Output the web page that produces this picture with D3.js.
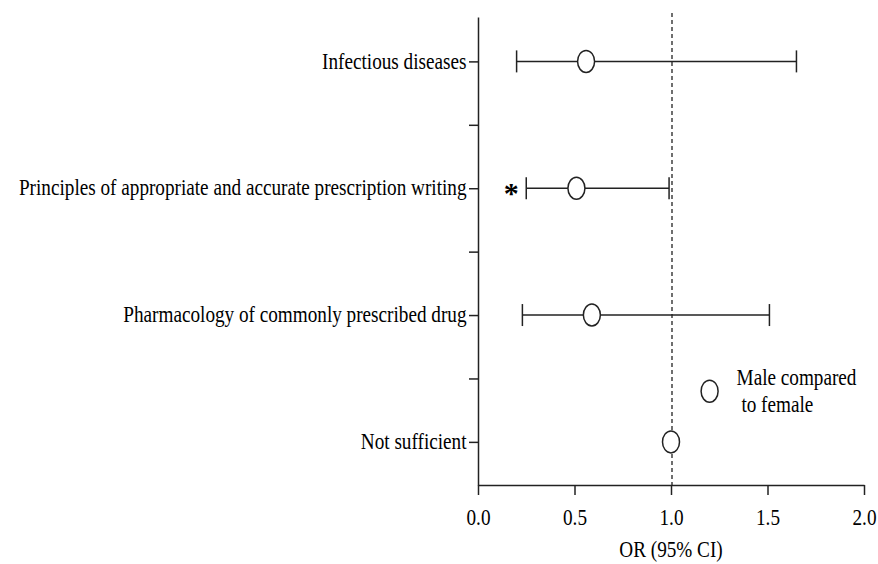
<!DOCTYPE html>
<html>
<head>
<meta charset="utf-8">
<script src="https://cdn.jsdelivr.net/npm/d3@7"></script>
<style>
  body { margin: 0; background: #fff; }
  svg { display: block; font-family: 'Liberation Serif', 'Times New Roman', serif; }
</style>
</head>
<body>
<div class="canvas"></div>
<script>
'use strict';

// forest plot: OR (95% CI), male compared to female
const categories = [
  'Infectious diseases',
  'Principles of appropriate and accurate prescription writing',
  'Pharmacology of commonly prescribed drug',
  'Not sufficient'
];
const oddsRatio = [0.56, 0.51, 0.59, 1.0];
const lowerCI = [0.20, 0.25, 0.23, null];
const upperCI = [1.65, 0.99, 1.51, null];
const significant = [false, true, false, false];
const xTicks = [0, 0.5, 1.0, 1.5, 2.0];
const legendLines = ['Male compared', ' to female'];

const width = 878;
const height = 564;
const margin = { top: 17, right: 14, bottom: 79, left: 478 };
const graphWidth = width - margin.left - margin.right;
const graphHeight = height - margin.top - margin.bottom;
const squeeze = 0.8; // text in the picture is narrow
const ink = '#222';
const serif = "'Liberation Serif', 'Times New Roman', serif";

const rows = categories.map((name, i) => ({
  name,
  pos: categories.length - i,
  or: oddsRatio[i],
  lo: lowerCI[i],
  hi: upperCI[i],
  sig: significant[i]
}));

const svg = d3
  .select('.canvas')
  .append('svg')
  .attr('width', width)
  .attr('height', height);

const graph = svg
  .append('g')
  .attr('transform', `translate(${margin.left},${margin.top})`);

const x = d3.scaleLinear().domain([0, 2]).range([0, graphWidth]);
const y = d3.scaleLinear().domain([0.66, 4.35]).range([graphHeight, 0]);

// reference line at OR = 1
graph
  .append('line')
  .attr('x1', x(1) + 1)
  .attr('x2', x(1) + 1)
  .attr('y1', -4)
  .attr('y2', graphHeight)
  .attr('stroke', ink)
  .attr('stroke-width', 1.3)
  .attr('stroke-dasharray', '4,3');

// axes
const xAxis = d3
  .axisBottom(x)
  .tickValues(xTicks)
  .tickFormat(d3.format('.1f'))
  .tickSize(10)
  .tickSizeOuter(0)
  .tickPadding(13);

const yTickVals = d3.range(1, 4.01, 0.5);
const yAxis = d3
  .axisLeft(y)
  .tickValues(yTickVals)
  .tickFormat(d => (Number.isInteger(d) ? categories[categories.length - d] : ''))
  .tickSize(9)
  .tickSizeOuter(0)
  .tickPadding(2);

const xAxisGroup = graph
  .append('g')
  .attr('transform', `translate(0,${graphHeight})`)
  .call(xAxis);
const yAxisGroup = graph.append('g').call(yAxis);

[xAxisGroup, yAxisGroup].forEach(g => {
  g.attr('font-family', serif);
  g.selectAll('path, line').attr('stroke', ink).attr('stroke-width', 1.5);
  g.selectAll('text')
    .attr('fill', '#000')
    .style('font-family', serif)
    .style('font-size', '24px');
});

xAxisGroup.selectAll('text').attr('transform', `scale(${squeeze},1)`);
yAxisGroup
  .selectAll('text')
  .attr('x', -11.5 / squeeze)
  .attr('dy', '0.28em')
  .attr('transform', `scale(${squeeze},1)`);

// axis title
graph
  .append('text')
  .attr('transform', `translate(${x(1)},${graphHeight + 72}) scale(${squeeze},1)`)
  .attr('text-anchor', 'middle')
  .attr('fill', '#000')
  .style('font-family', serif)
  .style('font-size', '24px')
  .text('OR (95% CI)');

// confidence intervals
const ci = graph
  .selectAll('.ci')
  .data(rows.filter(d => d.lo !== null))
  .enter()
  .append('g')
  .attr('class', 'ci')
  .attr('stroke', ink)
  .attr('stroke-width', 1.5);

ci.append('line')
  .attr('x1', d => x(d.lo))
  .attr('x2', d => x(d.hi))
  .attr('y1', d => y(d.pos))
  .attr('y2', d => y(d.pos));

ci.append('line')
  .attr('x1', d => x(d.lo))
  .attr('x2', d => x(d.lo))
  .attr('y1', d => y(d.pos) - 11)
  .attr('y2', d => y(d.pos) + 11);

ci.append('line')
  .attr('x1', d => x(d.hi))
  .attr('x2', d => x(d.hi))
  .attr('y1', d => y(d.pos) - 11)
  .attr('y2', d => y(d.pos) + 11);

// point estimates
graph
  .selectAll('.est')
  .data(rows)
  .enter()
  .append('ellipse')
  .attr('class', 'est')
  .attr('cx', d => x(d.or))
  .attr('cy', d => y(d.pos))
  .attr('rx', 8.5)
  .attr('ry', 11)
  .attr('fill', '#fff')
  .attr('stroke', ink)
  .attr('stroke-width', 1.5);

// significance mark
graph
  .selectAll('.star')
  .data(rows.filter(d => d.sig))
  .enter()
  .append('text')
  .attr('class', 'star')
  .attr('transform', d => `translate(${x(d.lo) - 15},${y(d.pos) + 15})`)
  .attr('text-anchor', 'middle')
  .attr('fill', '#000')
  .style('font-family', serif)
  .style('font-size', '30px')
  .style('font-weight', 'bold')
  .text('*');

// legend
const legend = graph
  .append('g')
  .attr('transform', `translate(${x(1.2)},${y(1.4)})`);

legend
  .append('ellipse')
  .attr('cx', 0)
  .attr('cy', 0)
  .attr('rx', 8.5)
  .attr('ry', 11)
  .attr('fill', '#fff')
  .attr('stroke', ink)
  .attr('stroke-width', 1.5);

legend
  .selectAll('text')
  .data(legendLines)
  .enter()
  .append('text')
  .attr('transform', (d, i) => `translate(27,${-6 + i * 27}) scale(${squeeze},1)`)
  .attr('fill', '#000')
  .attr('xml:space', 'preserve')
  .style('font-family', serif)
  .style('font-size', '24px')
  .style('white-space', 'pre')
  .text(d => d);
</script>
</body>
</html>
